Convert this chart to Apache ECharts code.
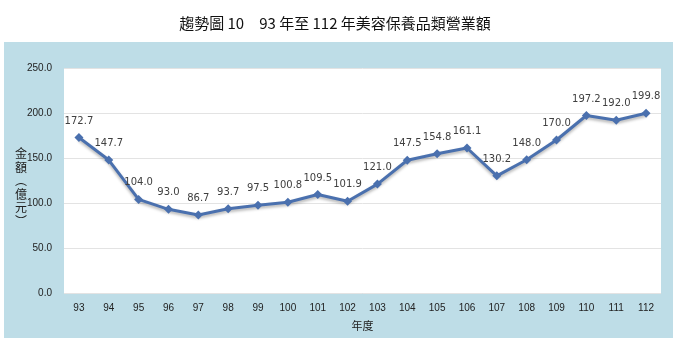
<!DOCTYPE html>
<html><head><meta charset="utf-8">
<script src="https://cdn.jsdelivr.net/npm/echarts@6/dist/echarts.min.js"></script>
<style>html,body{margin:0;padding:0;background:#fff}#c{width:678px;height:338px}</style>
</head><body><div id="c"></div>
<script>
var categories = ['93','94','95','96','97','98','99','100','101','102','103','104','105','106','107','108','109','110','111','112'];
var values = [172.7,147.7,104.0,93.0,86.7,93.7,97.5,100.8,109.5,101.9,121.0,147.5,154.8,161.1,130.2,148.0,170.0,197.2,192.0,199.8];
var yTicks = [0,50,100,150,200,250];
var chart = echarts.init(document.getElementById('c'));
chart.setOption({
  animation:false,
  backgroundColor:'#fff',
  title:{text:'趨勢圖 10　93 年至 112 年美容保養品類營業額',left:330,top:11,textAlign:'center',
    textStyle:{fontFamily:'Noto Sans CJK TC',fontSize:15,fontWeight:'normal',color:'#111'}},
  graphic:[
    {type:'rect',z:-10,shape:{x:4,y:42,width:669,height:296},style:{fill:'#BEDDE7'}},
    {type:'text',left:15,top:147,z:10,style:{text:'金\n額\n︵\n億\n元\n︶',fontFamily:'Noto Sans CJK TC',fontSize:12,lineHeight:13.5,fill:'#222'}}
  ],
  grid:{left:64,right:17,top:68,bottom:45,show:true,backgroundColor:'#fff',borderWidth:0},
  xAxis:{type:'category',data:categories,boundaryGap:true,
    name:'年度',nameLocation:'middle',nameGap:27,
    nameTextStyle:{fontFamily:'Noto Sans CJK TC',fontSize:11,color:'#222'},
    axisLine:{show:false},axisTick:{show:false},
    axisLabel:{fontFamily:'Liberation Sans',fontSize:10,color:'#222',margin:10}},
  yAxis:{type:'value',min:0,max:250,interval:50,
    axisLine:{show:false},axisTick:{show:false},
    splitLine:{lineStyle:{color:'#e3e3e3',width:1}},
    axisLabel:{fontFamily:'Liberation Sans',fontSize:10,color:'#222',margin:12,
      formatter:function(v){return yTicks.indexOf(v)>=0?v.toFixed(1):'';}}},
  series:[{type:'line',data:values,symbol:'diamond',symbolSize:9,
    lineStyle:{color:'#4A70AE',width:3,shadowColor:'rgba(0,0,0,0.3)',shadowBlur:3,shadowOffsetY:2},
    itemStyle:{color:'#4A70AE'},
    label:{show:true,position:'top',distance:7,fontFamily:'DejaVu Sans',fontSize:10,color:'#404040',
      formatter:function(p){return p.value.toFixed(1);}}}]
});
</script></body></html>
